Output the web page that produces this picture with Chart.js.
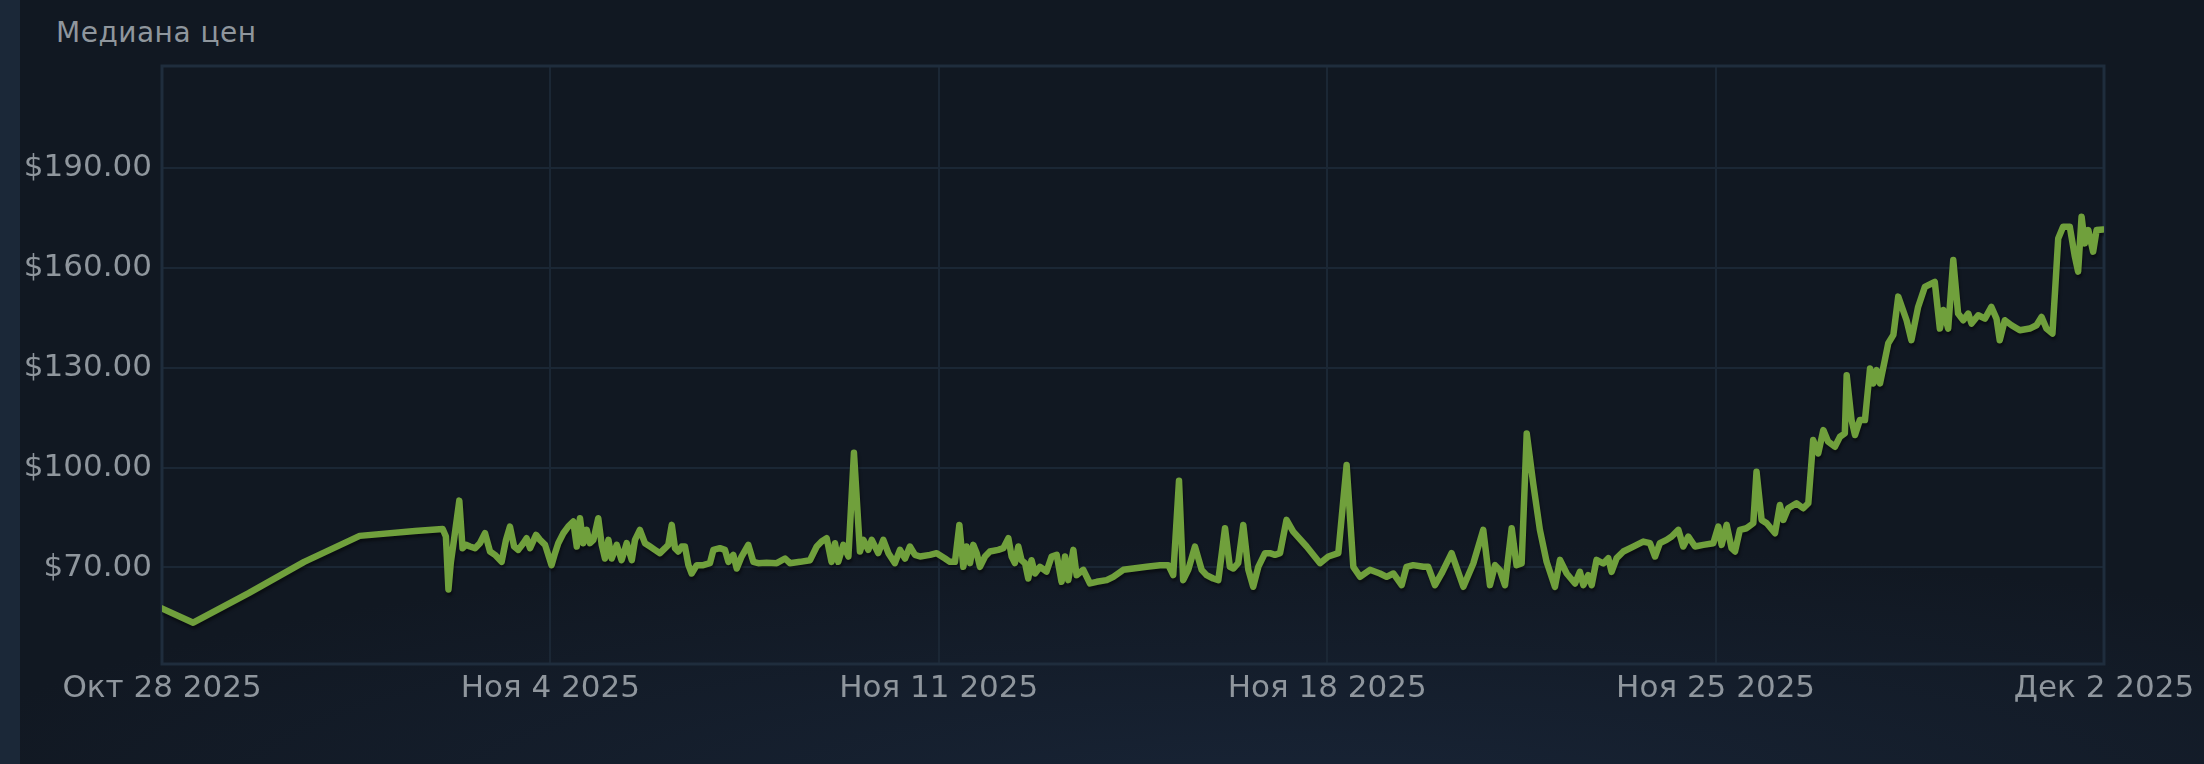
<!DOCTYPE html>
<html>
<head>
<meta charset="utf-8">
<script src="https://cdn.jsdelivr.net/npm/chart.js@4.4.1/dist/chart.umd.min.js"></script>
<style>
  html, body { margin: 0; padding: 0; }
  body {
    width: 2204px; height: 764px; overflow: hidden; position: relative;
    background: radial-gradient(ellipse 1400px 260px at 1300px 800px, #182436 0%, #111822 100%), #111822;
  }
  #stripe { position: absolute; left: 0; top: 0; width: 20px; height: 764px; background: #1b2838; }
  #title {
    position: absolute; left: 56px; top: 19px;
    font: 28px 'DejaVu Sans'; line-height: 28px; letter-spacing: 0.5px; color: #8f969d;
  }
  canvas { position: absolute; left: 0; top: 0; }
</style>
</head>
<body>
<div id="stripe"></div>
<div id="title">Медиана цен</div>
<canvas id="chart" width="2204" height="764"></canvas>
<script>
// hours since Oct 28 2025 00:00 and median price in $
const hours = [
  -10.5, 13.5, 37.5, 61.5, 85.5, 109.5,
  121.4, 122.8, 123.9, 124.9, 126.0, 128.6, 130.0, 131.5, 133.2, 135.4,
  137.5, 139.7, 141.9, 144.0, 146.9, 148.8, 150.5, 152.3, 154.1, 156.3,
  157.7, 159.2, 161.8, 163.5, 165.7, 168.5, 170.0, 171.4, 173.6, 175.7,
  177.9, 179.4, 180.8, 182.2, 183.7, 185.1, 186.6, 188.7, 190.2, 191.6,
  193.1, 194.5, 196.7, 198.8, 201.0, 203.2, 204.6, 206.7, 208.9, 211.1,
  213.2, 215.4, 217.6, 219.0, 220.5, 221.9, 223.3, 224.8, 226.2, 227.7,
  229.1, 231.3, 234.1, 237.0, 238.5, 241.3, 243.5, 245.0, 247.1, 248.6,
  250.7, 253.6, 255.8, 257.9, 261.5, 265.9, 269.5, 271.6, 276.0, 280.3,
  283.2, 285.3, 287.5, 289.6, 291.1, 292.5, 294.7, 296.9, 299.3, 301.9,
  303.4, 305.5, 307.0, 309.8, 312.0, 314.2, 317.0, 319.2, 321.4, 323.5,
  325.7, 327.9, 332.2, 335.1,
  338.7, 340.8, 343.0, 344.9, 346.6, 348.0, 349.5, 350.9, 352.4, 353.8,
  356.0, 358.1, 361.7, 363.9, 366.1, 367.5, 368.9, 370.4, 371.8, 373.3,
  374.7, 376.1, 377.6, 379.8, 382.6, 384.8, 387.0, 389.1, 390.6, 392.0,
  394.2, 395.6, 398.5, 401.4, 404.3, 408.6, 411.5, 415.8, 420.1, 425.9,
  431.7, 435.3, 437.4, 439.9, 441.7, 443.9, 446.8, 449.7, 451.8, 454.7,
  456.9, 459.8, 461.9, 463.4, 465.5, 467.7, 469.9, 472.0, 474.2, 477.1,
  479.2, 481.4, 483.6, 486.4, 489.3, 495.1, 500.9, 504.5, 508.8, 512.4,
  515.3, 518.2, 522.5, 526.8, 529.7, 532.6, 536.2, 538.3, 541.2, 545.6,
  547.7, 550.6, 553.5, 557.8,
  562.9, 567.2, 571.5, 574.4, 576.6, 578.7, 580.9, 583.8, 585.9, 588.1,
  590.3, 593.1, 596.0, 598.9, 602.5, 604.7, 607.6, 611.2, 613.3, 614.8,
  616.9, 618.4, 620.5, 623.4, 625.6, 627.0, 629.2, 632.1, 636.4, 640.7,
  643.6, 645.8, 647.9, 650.8, 653.0, 655.9, 658.0, 660.2, 663.1, 666.7,
  671.0, 673.2, 674.6, 676.8, 678.9, 680.4, 682.5, 685.4, 688.3, 689.7,
  691.9, 694.1, 697.7, 699.8, 701.3, 703.4, 707.0, 709.9, 712.1, 714.2,
  716.4, 718.6, 720.7, 723.6, 725.8, 727.9, 728.7, 730.8, 732.3, 734.4,
  736.6, 738.8, 740.2, 741.6, 743.1, 745.2, 746.7, 748.9, 751.0,
  754.6, 756.7, 759.6, 762.5, 766.8, 769.0, 770.5, 772.6, 774.8, 776.9,
  779.1, 781.3, 782.7, 785.6, 788.5, 791.3, 793.5, 794.9, 797.1, 800.0,
  803.6, 807.9, 810.8, 813.0, 815.1, 817.7, 819.0, 820.2, 822.3, 825.2,
  827.4, 828.8, 830.3, 831.7, 833.2, 835.3, 836.8, 839.6
];

const prices = [
  61.0, 53.4, 62.3, 71.7, 79.5, 81.0,
  81.6, 79.3, 63.4, 71.3, 76.8, 90.1, 75.8, 76.8, 76.3, 75.8,
  77.3, 80.3, 74.8, 73.8, 71.7, 78.3, 82.3, 76.3, 75.3, 77.3,
  78.8, 75.8, 79.8, 78.3, 76.8, 70.7, 74.3, 77.3, 80.3, 82.3,
  83.8, 76.3, 84.8, 77.3, 81.3, 77.3, 78.3, 84.8, 76.8, 72.7,
  78.3, 72.7, 76.8, 72.2, 77.3, 72.2, 78.3, 81.3, 77.3, 76.3,
  75.3, 74.3, 75.8, 76.8, 82.8, 75.8, 74.8, 76.3, 76.3, 70.7,
  68.2, 70.7, 70.7, 71.3, 75.3, 75.8, 75.3, 71.7, 73.8, 69.7,
  73.3, 76.8, 71.7, 71.3, 71.4, 71.3, 72.7, 71.3, 71.7, 72.2,
  76.3, 77.8, 78.8, 71.7, 77.3, 71.7, 76.8, 73.3, 104.5, 74.8,
  78.3, 75.3, 78.3, 74.3, 78.3, 74.3, 71.3, 75.3, 72.7, 76.3,
  73.8, 73.3, 73.8, 74.3,
  72.7, 71.7, 71.7, 82.8, 70.2, 76.3, 71.3, 76.8, 74.3, 70.2,
  73.3, 74.8, 75.3, 75.8, 78.8, 73.3, 71.3, 76.3, 72.2, 71.3,
  66.7, 72.2, 68.2, 70.2, 68.8, 73.3, 73.8, 65.7, 73.3, 66.2,
  75.3, 67.7, 69.3, 65.2, 65.7, 66.2, 67.2, 69.3, 69.7, 70.2,
  70.7, 70.7, 67.7, 96.1, 66.2, 69.3, 76.3, 69.3, 67.7, 66.7,
  66.2, 81.8, 70.2, 69.7, 71.3, 82.8, 69.3, 64.2, 70.2, 74.3,
  74.3, 73.8, 74.3, 84.3, 80.8, 76.3, 71.3, 73.3, 74.3, 100.8,
  70.2, 67.2, 69.3, 68.2, 67.2, 68.2, 64.7, 70.2, 70.7, 70.2,
  70.2, 64.7, 68.2, 74.3,
  64.2, 71.2, 81.3, 64.7, 70.7, 69.2, 64.7, 81.8, 70.7, 71.2,
  110.3, 95.3, 81.3, 71.7, 64.2, 72.3, 68.2, 65.2, 68.7, 64.7,
  67.7, 64.7, 72.3, 71.2, 72.8, 68.7, 72.8, 74.8, 76.3, 77.8,
  77.3, 73.3, 77.3, 78.3, 79.3, 81.3, 76.3, 79.3, 76.3, 76.8,
  77.3, 82.3, 76.8, 82.8, 75.8, 74.8, 81.3, 81.8, 83.3, 98.8,
  84.3, 83.3, 80.3, 88.8, 84.3, 87.8, 89.3, 87.8, 89.3, 108.3,
  104.3, 111.3, 107.8, 106.3, 109.3, 110.3, 127.8, 114.3, 109.8, 114.3,
  114.3, 129.8, 125.3, 129.3, 125.3, 132.3, 137.4, 139.9, 151.4,
  144.3, 138.3, 148.3, 154.3, 155.8, 141.8, 147.4, 141.8, 162.4, 146.3,
  144.3, 146.3, 143.3, 145.8, 144.8, 148.3, 144.8, 138.3, 144.3, 142.8,
  141.3, 141.8, 142.8, 145.3, 141.8, 140.3, 155.0, 168.9, 172.4, 172.4,
  163.4, 158.9, 175.4, 167.4, 171.4, 164.9, 171.4, 171.6
];

const xTicks = [0, 168, 336, 504, 672, 840];
const xTickLabels = ['Окт 28 2025', 'Ноя 4 2025', 'Ноя 11 2025', 'Ноя 18 2025', 'Ноя 25 2025', 'Дек 2 2025'];
const yTicks = [70, 100, 130, 160, 190];

if (hours.length !== prices.length) console.error('length mismatch', hours.length, prices.length);

const points = hours.map((h, i) => ({ x: h, y: prices[i] }));

const textColor = '#8f969d';
const gridColor = '#1b2735';
const tickFont = { family: 'DejaVu Sans', size: 31 };

// frame round the plot area, plus a soft shadow under the line
const framePlugin = {
  id: 'frame',
  beforeDatasetsDraw(chart) {
    const { ctx, chartArea: a } = chart;
    ctx.save();
    ctx.strokeStyle = '#1f2d3d';
    ctx.lineWidth = 3;
    ctx.strokeRect(a.left, a.top, a.right - a.left, a.bottom - a.top);
    ctx.restore();
    ctx.save();
    ctx.shadowColor = 'rgba(0,0,0,0.45)';
    ctx.shadowOffsetX = 1;
    ctx.shadowOffsetY = 3;
    ctx.shadowBlur = 3;
  },
  afterDatasetsDraw(chart) {
    chart.ctx.restore();
  }
};

new Chart(document.getElementById('chart'), {
  type: 'line',
  data: {
    datasets: [{
      data: points,
      borderColor: '#70a03c',
      borderWidth: 6.5,
      borderJoinStyle: 'round',
      borderCapStyle: 'round',
      pointRadius: 0,
      tension: 0,
      fill: false
    }]
  },
  options: {
    responsive: false,
    animation: false,
    devicePixelRatio: 1,
    layout: { padding: { left: 0, right: 100, top: 66, bottom: 0 } },
    plugins: {
      legend: { display: false },
      tooltip: { enabled: false }
    },
    scales: {
      x: {
        type: 'linear',
        min: 0,
        max: 840,
        afterBuildTicks: s => { s.ticks = xTicks.map(v => ({ value: v })); },
        afterFit: s => { s.height = 100; },
        ticks: {
          color: textColor,
          font: tickFont,
          padding: 6,
          maxRotation: 0,
          autoSkip: false,
          callback: v => xTickLabels[xTicks.indexOf(v)]
        },
        grid: { color: gridColor, lineWidth: 2, drawTicks: false },
        border: { display: false }
      },
      y: {
        min: 41,
        max: 220.7,
        afterBuildTicks: s => { s.ticks = yTicks.map(v => ({ value: v })); },
        afterFit: s => { s.width = 162; },
        ticks: {
          color: textColor,
          font: tickFont,
          padding: 10,
          callback: v => '$' + v.toFixed(2)
        },
        grid: { color: gridColor, lineWidth: 2, drawTicks: false },
        border: { display: false }
      }
    }
  },
  plugins: [framePlugin]
});
</script>
</body>
</html>
